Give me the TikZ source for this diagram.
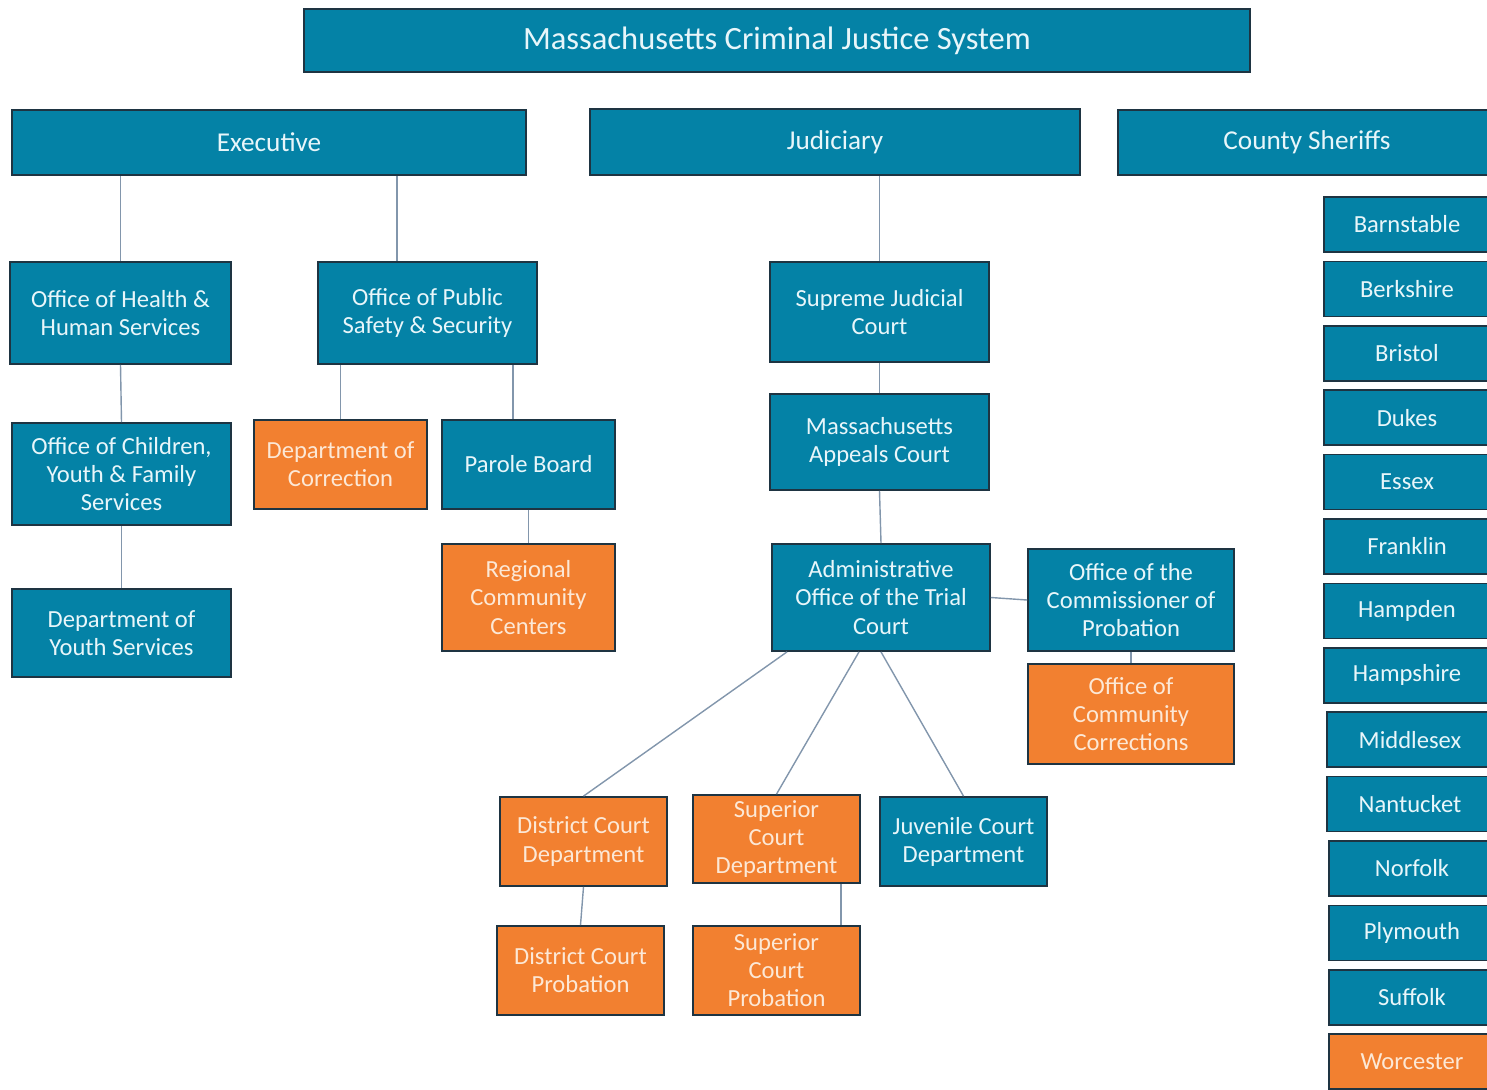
\documentclass[tikz,border=0pt]{standalone}
\usepackage{fontspec}
\setmainfont{Carlito}
\definecolor{mablue}{RGB}{4,130,166}
\definecolor{maorange}{RGB}{242,128,48}
\definecolor{boxline}{RGB}{30,52,66}
\definecolor{linkline}{RGB}{130,150,172}
\definecolor{bluetext}{RGB}{232,246,250}
\definecolor{orangetext}{RGB}{252,232,214}
\newcommand{\boxfont}{\fontsize{14}{16}\selectfont}
\newcommand{\headfont}{\fontsize{15.5}{18}\selectfont}
\tikzset{
  sz/.style 2 args={minimum width=#1*0.02cm, minimum height=#2*0.02cm},
  bluebox/.style={draw=boxline, line width=1pt, fill=mablue, text=bluetext,
    align=center, inner sep=1pt, font=\boxfont},
  orangebox/.style={bluebox, fill=maorange, text=orangetext},
  headbox/.style={bluebox, font=\headfont},
  link/.style={draw=linkline, line width=0.8pt}
}
\begin{document}
\begin{tikzpicture}[x=0.02cm, y=-0.02cm]
    \useasboundingbox (0,0) rectangle (1487,1089);
    \clip (0,0) rectangle (1487,1089);

    % top row
    \node[bluebox, sz={946}{63}, font=\fontsize{18.5}{22}\selectfont] (title) at (777,40.5) {Massachusetts Criminal Justice System};
    \node[headbox, sz={514}{65}] (exec) at (269,142.5) {Executive};
    \node[headbox, sz={490}{66}] (jud) at (835,142) {Judiciary};
    \node[headbox, sz={378}{65}] (sheriffs) at (1307,142.5) {County Sheriffs};

    % executive branch
    \node[bluebox, sz={221}{102}] (ohhs) at (120.5,313) {Office of Health \&\\Human Services};
    \node[bluebox, sz={219}{102}] (opss) at (427.5,313) {Office of Public\\Safety \& Security};
    \node[bluebox, sz={219}{102}] (ocyfs) at (121.5,474) {Office of Children,\\Youth \& Family\\Services};
    \node[orangebox, sz={173}{89}] (doc) at (340.5,464.5) {Department of\\Correction};
    \node[bluebox, sz={173}{89}] (parole) at (528.5,464.5) {Parole Board};
    \node[bluebox, sz={219}{88}] (dys) at (121.5,633) {Department of\\Youth Services};
    \node[orangebox, sz={173}{107}] (rcc) at (528.5,597.5) {Regional\\Community\\Centers};

    % judiciary
    \node[bluebox, sz={219}{100}] (sjc) at (879.5,312) {Supreme Judicial\\Court};
    \node[bluebox, sz={219}{96}] (mac) at (879.5,442) {Massachusetts\\Appeals Court};
    \node[bluebox, sz={218}{107}] (aotc) at (881,597.5) {Administrative\\Office of the Trial\\Court};
    \node[bluebox, sz={206}{102}] (ocp) at (1131,600) {Office of the\\Commissioner of\\Probation};
    \node[orangebox, sz={206}{100}] (occ) at (1131,714) {Office of\\Community\\Corrections};
    \node[orangebox, sz={167}{89}] (dcd) at (583.5,841.5) {District Court\\Department};
    \node[orangebox, sz={167}{88}] (scd) at (776.5,839) {Superior\\Court\\Department};
    \node[bluebox, sz={167}{89}] (jcd) at (963.5,841.5) {Juvenile Court\\Department};
    \node[orangebox, sz={167}{89}] (dcp) at (580.5,970.5) {District Court\\Probation};
    \node[orangebox, sz={167}{89}] (scp) at (776.5,970.5) {Superior\\Court\\Probation};

    % county sheriffs
    \foreach \name/\xl [count=\i from 0] in {Barnstable/1324, Berkshire/1324, Bristol/1324,
        Dukes/1324, Essex/1324, Franklin/1324, Hampden/1324, Hampshire/1324,
        Middlesex/1327, Nantucket/1327, Norfolk/1329, Plymouth/1329, Suffolk/1329}
      \node[bluebox, sz={166}{55}] (county\i) at (\xl+83,224.5+64.4*\i) {\name};
    \node[orangebox, sz={166}{55}] (county13) at (1412,1061.7) {Worcester};

    % connectors
    \coordinate (xopss) at (397,0);
    \coordinate (xparole) at (513,0);
    \coordinate (xdcd) at (787,0);
    \coordinate (xscd) at (859,0);
    \coordinate (xscp) at (841,0);

    \draw[link] (ohhs.north) -- (ohhs.north |- exec.south);
    \draw[link] (opss.north -| xopss) -- (exec.south -| xopss);
    \draw[link] (ohhs.south) -- (ocyfs.north);
    \draw[link] (ocyfs.south) -- (dys.north);
    \draw[link] (doc.north) -- (doc.north |- opss.south);
    \draw[link] (parole.north -| xparole) -- (opss.south -| xparole);
    \draw[link] (parole.south) -- (rcc.north);

    \draw[link] (sjc.north) -- (sjc.north |- jud.south);
    \draw[link] (sjc.south) -- (mac.north);
    \draw[link] (mac.south) -- (aotc.north);
    \draw[link] (aotc.east) -- (ocp.west);
    \draw[link] (ocp.south) -- (occ.north);
    \draw[link] (aotc.south -| xdcd) -- (dcd.north);
    \draw[link] (aotc.south -| xscd) -- (scd.north);
    \draw[link] (aotc.south) -- (jcd.north);
    \draw[link] (dcd.south) -- (dcp.north);
    \draw[link] (scd.south -| xscp) -- (scp.north -| xscp);
\end{tikzpicture}
\end{document}
